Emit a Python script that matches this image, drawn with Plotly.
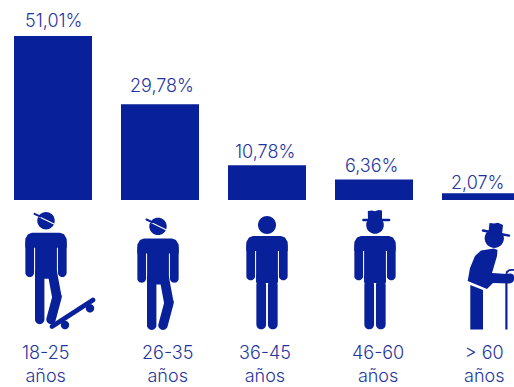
import math
import plotly.graph_objects as go

# Age bands and their share of the total
age_bands = ["18-25", "26-35", "36-45", "46-60", "> 60"]
unit_label = "años"
shares = [51.01, 29.78, 10.78, 6.36, 2.07]
share_labels = ["51,01%", "29,78%", "10,78%", "6,36%", "2,07%"]

WIDTH, HEIGHT = 514, 387
INK = "#082099"
TEXT = "#1f35a0"
FONT = "Inter, DejaVu Sans, sans-serif"

label_centres = [45, 167, 265, 378, 484]
share_x = [53, 162, 265, 371, 477]
share_y = [20, 85, 152, 165, 183]

shapes = []


def px(x, y):
    return x / WIDTH, 1 - y / HEIGHT


def poly(points, color=INK):
    parts = []
    for i, (x, y) in enumerate(points):
        u, v = px(x, y)
        parts.append(f"{'M' if i == 0 else 'L'}{u:.5f},{v:.5f}")
    shapes.append(dict(type="path", xref="paper", yref="paper", path=" ".join(parts) + " Z",
                       fillcolor=color, line=dict(width=0), layer="above"))


def disc(cx, cy, r, color=INK):
    poly([(cx + r * math.cos(i * math.pi / 18), cy + r * math.sin(i * math.pi / 18)) for i in range(36)], color)


def capsule(x1, y1, x2, y2, w, color=INK):
    """Thick stroke with rounded ends."""
    ang = math.atan2(y2 - y1, x2 - x1)
    r = w / 2
    pts = []
    for i in range(13):
        a = ang + math.pi / 2 + i * math.pi / 12
        pts.append((x1 + r * math.cos(a), y1 + r * math.sin(a)))
    for i in range(13):
        a = ang - math.pi / 2 + i * math.pi / 12
        pts.append((x2 + r * math.cos(a), y2 + r * math.sin(a)))
    poly(pts, color)


def upper_body(cx, dy):
    """Shoulders, torso and arms of the standing pictogram; cx is the body centre."""
    top = 232.7 + dy
    poly([(cx - 14, top), (cx + 14, top), (cx + 18, top + 1.5), (cx + 20.65, top + 6),
          (cx + 20.65, top + 15), (cx + 10.9, top + 15), (cx + 10.9, top + 46),
          (cx - 10.9, top + 46), (cx - 10.9, top + 15), (cx - 20.65, top + 15),
          (cx - 20.65, top + 6), (cx - 18, top + 1.5)])
    capsule(cx - 16.3, top + 10, cx - 16.3, top + 40, 8.7)
    capsule(cx + 16.3, top + 10, cx + 16.3, top + 40, 8.7)


def walker(cx, dy):
    """Figure with a bent leg and a sideways cap."""
    upper_body(cx, dy)
    disc(cx, 220.7 + dy, 8.7)
    capsule(cx - 6.3, 275 + dy, cx - 6.3, 319.5 + dy, 9.4)
    poly([(cx - 10.9, 270 + dy), (cx + 10.7, 270 + dy), (cx + 15.7, 297 + dy),
          (cx + 6, 297 + dy), (cx + 2.3, 277 + dy), (cx - 10.9, 277 + dy)])
    capsule(cx + 11, 297 + dy, cx + 5, 319.5 + dy, 9.4)
    capsule(cx - 11, 214.8 + dy, cx + 8, 224 + dy, 1.2, "white")
    capsule(cx - 11.5, 213.8 + dy, cx - 5.5, 216.6 + dy, 2)


def stander(cx):
    upper_body(cx, 3.3)
    capsule(cx - 5.8, 285, cx - 5.8, 324.5, 9.7)
    capsule(cx + 5.8, 285, cx + 5.8, 324.5, 9.7)
    poly([(cx - 10.7, 275), (cx + 10.7, 275), (cx + 10.7, 283), (cx - 10.7, 283)])


# Skater
walker(46, 0)
capsule(52, 326.5, 93, 300, 4.8)
disc(65, 325, 4.2)
disc(90, 308.3, 4.2)

# Young adult
walker(158, 5.7)

# Bare-headed adult
stander(267)
disc(267, 225, 9)

# Adult with a brimmed hat
stander(375)
disc(375, 225, 8.8)
poly([(368, 220), (367.8, 211), (372, 210.5), (375, 211.2), (378.5, 210), (382, 210.5), (382, 220)])
capsule(363.5, 220, 389, 220, 2.6)

# Elder with a cane
disc(494.3, 238.3, 9.6)
capsule(483, 230.5, 509, 235.6, 2.4)
poly([(488.5, 232), (489.5, 223), (494, 223.5), (498, 222.8), (503, 225), (502, 234.5)])
poly([(481, 250.5), (494, 248.5), (497.5, 250), (497, 256), (492, 273), (507, 274),
      (513, 276), (513, 282), (510, 283.5), (493, 283), (487, 289), (467.7, 281),
      (470, 268), (475, 256)])
poly([(470.3, 285), (483, 290), (483, 329.5), (470.3, 329.5)])
disc(510, 278, 4.6)
poly([(505.3, 282), (507.5, 282), (507.5, 329.5), (505.3, 329.5)])
poly([(505.3, 276), (506, 271.5), (509, 269.3), (514, 269), (514, 270.8), (509.5, 271), (507.5, 273), (507.5, 276)])

annotations = []

# Age range captions, two lines each, resting on the bottom edge
for name, xc in zip(age_bands, label_centres):
    u, _ = px(xc, 0)
    annotations.append(dict(text=f"{name}<br>{unit_label}", x=u, y=0, xref="paper", yref="paper",
                            showarrow=False, xanchor="center", yanchor="bottom", borderpad=0,
                            font=dict(family=FONT, size=18, color=TEXT, weight=300)))

# Percentages above the bars
for label, xc, yc in zip(share_labels, share_x, share_y):
    u, v = px(xc, yc)
    annotations.append(dict(text=label, x=u, y=v, xref="paper", yref="paper", showarrow=False,
                            xanchor="center", yanchor="middle",
                            font=dict(family=FONT, size=18, color=TEXT, weight=300)))

fig = go.Figure(go.Bar(
    x=age_bands, y=shares, width=0.729, marker=dict(color=INK, line=dict(width=0)),
))
fig.update_layout(
    width=WIDTH, height=HEIGHT, margin=dict(l=0, r=0, t=0, b=0),
    paper_bgcolor="white", plot_bgcolor="white", showlegend=False,
    shapes=shapes, annotations=annotations,
    xaxis=dict(type="category", categoryorder="array", categoryarray=age_bands,
               range=[-53 / 107, (WIDTH - 53) / 107], visible=False),
    yaxis=dict(domain=[1 - 200 / HEIGHT, 1], range=[0, 51.01 * 200 / 164], visible=False),
)
fig.write_html("out.html")
